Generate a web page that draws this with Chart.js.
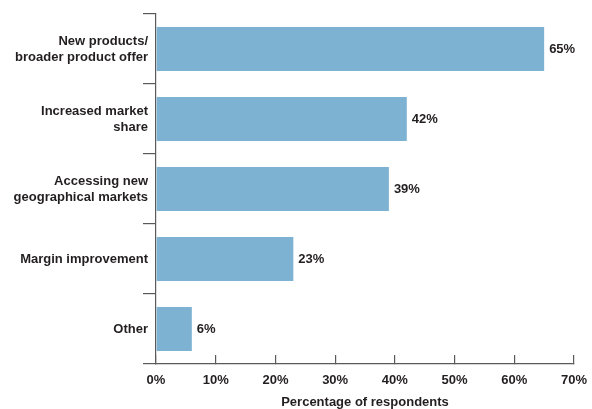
<!DOCTYPE html>
<html>
<head>
<meta charset="utf-8">
<script src="https://cdn.jsdelivr.net/npm/chart.js@4/dist/chart.umd.min.js"></script>
<style>
  html, body { margin: 0; padding: 0; background: #fff; }
  #wrap { width: 592px; height: 409px; position: relative; }
</style>
</head>
<body>
<div id="wrap"><canvas id="c" width="592" height="409"></canvas></div>
<script>
// Reasons given for acquisitions, share of respondents
const categories = [
  ['New products/', 'broader product offer'],
  ['Increased market', 'share'],
  ['Accessing new', 'geographical markets'],
  'Margin improvement',
  'Other'
];
const shares = [65, 42, 39, 23, 6];
const tickValues = [0, 10, 20, 30, 40, 50, 60, 70];

const TEXT = '#231f20';
const AXIS = '#5a5a5a';
const FONT = "'Liberation Sans', Arial, Helvetica, sans-serif";

// Percentage printed just past the end of each bar
const valueLabels = {
  id: 'valueLabels',
  afterDatasetsDraw(chart) {
    const ctx = chart.ctx;
    const meta = chart.getDatasetMeta(0);
    ctx.save();
    ctx.font = 'bold 13px ' + FONT;
    ctx.fillStyle = TEXT;
    ctx.textAlign = 'left';
    ctx.textBaseline = 'middle';
    meta.data.forEach((bar, i) => {
      ctx.fillText(shares[i] + '%', bar.x + 5, bar.y);
    });
    ctx.restore();
  }
};

new Chart(document.getElementById('c'), {
  type: 'bar',
  data: {
    labels: categories,
    datasets: [{
      data: shares,
      backgroundColor: '#7eb2d2',
      borderWidth: 0,
      barPercentage: 0.63,
      categoryPercentage: 1.0
    }]
  },
  plugins: [valueLabels],
  options: {
    indexAxis: 'y',
    responsive: false,
    animation: false,
    devicePixelRatio: 1,
    layout: { padding: { top: 14, right: 18, bottom: 0, left: 0 } },
    plugins: {
      legend: { display: false },
      tooltip: { enabled: false }
    },
    scales: {
      x: {
        min: 0,
        max: 70,
        afterBuildTicks(scale) {
          scale.ticks = tickValues.map(v => ({ value: v }));
        },
        afterFit(scale) {
          scale.height = 45;
          scale.paddingLeft = 0;
          scale.paddingRight = 18;
        },
        border: { display: true, color: AXIS, width: 1.2 },
        grid: {
          drawOnChartArea: false,
          drawTicks: true,
          tickLength: -9,
          color: AXIS,
          lineWidth: 1.2
        },
        ticks: {
          padding: 18,
          color: TEXT,
          font: { family: FONT, size: 13, weight: 'bold' },
          callback: v => v + '%',
          maxRotation: 0
        },
        title: {
          display: true,
          text: 'Percentage of respondents',
          color: TEXT,
          font: { family: FONT, size: 13, weight: 'bold', lineHeight: 1 },
          padding: { top: 0, bottom: 0 }
        }
      },
      y: {
        afterFit(scale) { scale.width = 156; },
        border: { display: true, color: AXIS, width: 1.2 },
        grid: {
          offset: true,
          drawOnChartArea: false,
          drawTicks: true,
          tickLength: 13,
          color: AXIS,
          lineWidth: 1.2
        },
        ticks: {
          padding: -5,
          color: TEXT,
          font: { family: FONT, size: 13, weight: 'bold', lineHeight: 1.23 },
          crossAlign: 'near'
        }
      }
    }
  }
});
</script>
</body>
</html>
